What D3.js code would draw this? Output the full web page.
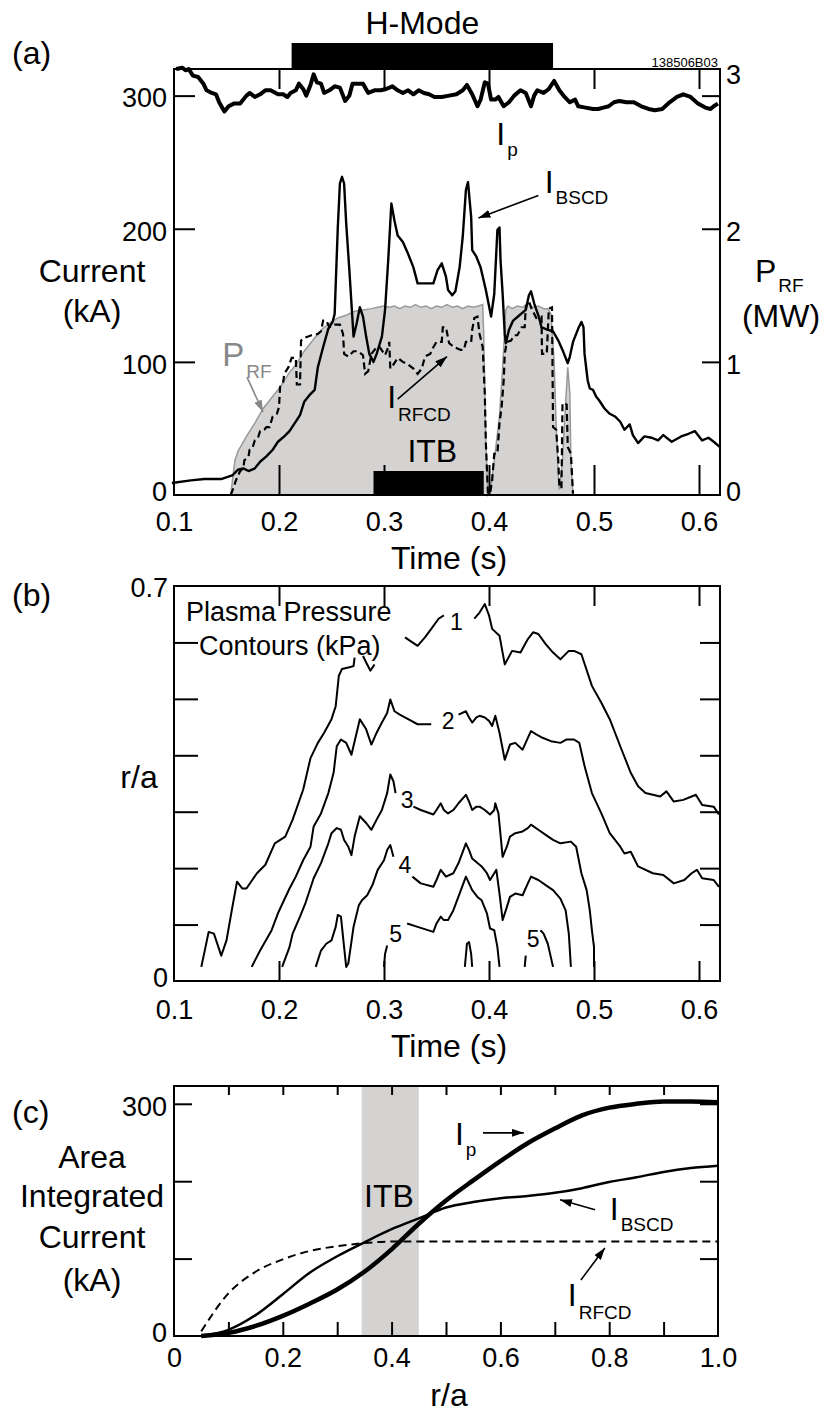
<!DOCTYPE html>
<html>
<head>
<meta charset="utf-8">
<script src="https://cdn.jsdelivr.net/npm/d3@7"></script>
<style>
  body { margin: 0; background: #fff; }
  svg { display: block; font-family: "Liberation Sans", Arial, sans-serif; }
</style>
</head>
<body>
<svg id="chart" width="825" height="1414"></svg>
<script>
// ---------- data ----------

// panel (a): time traces, [time (s), kA] or [time (s), MW]
const ipTrace = [[0.102,320],[0.108,321],[0.111,319],[0.114,320],[0.118,315],[0.123,314],[0.128,309],[0.131,304],[0.136,302],[0.140,301],[0.143,295],[0.148,288],[0.152,292],[0.157,294],[0.163,294],[0.169,300],[0.172,302],[0.177,299],[0.182,301],[0.187,304],[0.192,304],[0.199,301],[0.204,301],[0.208,299],[0.211,302],[0.216,304],[0.219,309],[0.223,305],[0.226,300],[0.230,308],[0.233,316],[0.236,310],[0.240,309],[0.243,302],[0.248,304],[0.253,307],[0.258,306],[0.263,296],[0.267,300],[0.270,309],[0.275,309],[0.280,309],[0.285,302],[0.291,304],[0.297,304],[0.302,305],[0.308,307],[0.313,304],[0.318,302],[0.323,304],[0.328,301],[0.333,304],[0.338,302],[0.343,301],[0.348,299],[0.355,299],[0.362,300],[0.369,301],[0.375,304],[0.379,308],[0.384,301],[0.389,292],[0.392,297],[0.396,310],[0.399,309],[0.402,297],[0.406,297],[0.409,299],[0.414,292],[0.419,295],[0.424,300],[0.430,304],[0.435,302],[0.440,292],[0.443,300],[0.446,304],[0.452,302],[0.457,305],[0.462,311],[0.467,304],[0.472,299],[0.477,295],[0.482,297],[0.485,292],[0.492,291],[0.499,290],[0.504,290],[0.509,291],[0.514,292],[0.519,295],[0.524,296],[0.531,295],[0.538,295],[0.545,292],[0.552,290],[0.558,289],[0.565,290],[0.572,295],[0.579,299],[0.585,301],[0.592,299],[0.599,294],[0.606,291],[0.611,290],[0.614,292],[0.618,294]];

const bscdTrace = [[0.098,9],[0.116,11],[0.129,12],[0.145,12],[0.156,15],[0.161,19],[0.166,20],[0.171,18],[0.177,20],[0.182,25],[0.188,29],[0.194,34],[0.199,40],[0.205,44],[0.210,48],[0.215,54],[0.220,60],[0.224,70],[0.229,75],[0.234,79],[0.237,96],[0.242,111],[0.247,125],[0.251,130],[0.253,136],[0.256,201],[0.258,234],[0.260,239],[0.262,234],[0.264,204],[0.267,169],[0.271,119],[0.274,129],[0.277,141],[0.280,134],[0.283,119],[0.286,106],[0.290,100],[0.293,106],[0.298,119],[0.301,139],[0.304,176],[0.307,219],[0.310,206],[0.313,195],[0.318,190],[0.323,181],[0.328,171],[0.332,159],[0.339,159],[0.347,159],[0.351,169],[0.355,174],[0.359,164],[0.361,154],[0.365,150],[0.368,153],[0.372,171],[0.375,194],[0.378,229],[0.380,235],[0.383,209],[0.384,184],[0.388,179],[0.392,171],[0.397,154],[0.402,134],[0.405,151],[0.408,199],[0.410,201],[0.411,176],[0.413,151],[0.415,121],[0.416,114],[0.419,124],[0.423,131],[0.429,135],[0.435,139],[0.438,150],[0.440,153],[0.443,144],[0.447,135],[0.450,126],[0.456,124],[0.461,123],[0.466,116],[0.470,109],[0.475,99],[0.477,104],[0.480,115],[0.485,125],[0.488,130],[0.490,126],[0.491,106],[0.494,86],[0.496,80],[0.499,79],[0.502,74],[0.505,71],[0.510,65],[0.515,61],[0.520,59],[0.525,55],[0.529,49],[0.534,53],[0.537,45],[0.542,39],[0.548,44],[0.555,43],[0.561,41],[0.566,45],[0.574,40],[0.583,44],[0.590,46],[0.596,48],[0.603,41],[0.609,43],[0.614,40],[0.620,36]];

const rfcdTrace = [[0.154,0],[0.156,4],[0.159,11],[0.163,18],[0.166,20],[0.167,26],[0.171,29],[0.172,34],[0.175,36],[0.177,41],[0.180,43],[0.182,48],[0.186,49],[0.188,51],[0.191,51],[0.194,59],[0.198,61],[0.200,66],[0.201,81],[0.204,85],[0.205,91],[0.209,96],[0.212,103],[0.216,103],[0.217,83],[0.220,83],[0.221,116],[0.224,118],[0.231,120],[0.237,121],[0.240,123],[0.242,131],[0.245,131],[0.248,126],[0.253,128],[0.258,128],[0.261,121],[0.262,106],[0.266,104],[0.271,108],[0.275,108],[0.280,105],[0.282,91],[0.285,93],[0.288,106],[0.293,111],[0.296,111],[0.301,105],[0.304,111],[0.305,115],[0.306,95],[0.309,98],[0.313,103],[0.318,100],[0.323,98],[0.328,95],[0.332,91],[0.336,95],[0.339,104],[0.344,106],[0.347,111],[0.350,115],[0.355,115],[0.356,126],[0.359,126],[0.362,114],[0.367,111],[0.373,109],[0.376,109],[0.378,115],[0.383,115],[0.384,124],[0.386,133],[0.389,134],[0.391,121],[0.394,111],[0.396,76],[0.397,39],[0.399,1],[0.401,1],[0.403,11],[0.405,31],[0.408,31],[0.410,54],[0.412,66],[0.414,86],[0.415,106],[0.417,115],[0.421,116],[0.424,120],[0.427,120],[0.431,126],[0.434,126],[0.435,141],[0.438,146],[0.440,141],[0.445,133],[0.450,134],[0.4505,106],[0.455,106],[0.457,140],[0.460,141],[0.461,51],[0.464,49],[0.466,26],[0.467,6],[0.469,5],[0.470,69],[0.474,68],[0.475,36],[0.478,31],[0.480,1]];

const prfTrace = [[0.154,0],[0.158,0.26],[0.161,0.33],[0.169,0.44],[0.177,0.54],[0.185,0.65],[0.193,0.73],[0.201,0.81],[0.209,0.91],[0.217,0.99],[0.224,1.08],[0.232,1.16],[0.240,1.24],[0.248,1.29],[0.256,1.33],[0.264,1.35],[0.272,1.38],[0.280,1.39],[0.288,1.40],[0.294,1.41],[0.300,1.42],[0.305,1.41],[0.310,1.42],[0.315,1.40],[0.320,1.42],[0.325,1.41],[0.330,1.43],[0.335,1.41],[0.340,1.42],[0.345,1.40],[0.350,1.42],[0.355,1.41],[0.360,1.43],[0.365,1.41],[0.370,1.42],[0.375,1.40],[0.380,1.42],[0.385,1.41],[0.390,1.42],[0.394,1.43],[0.395,1.20],[0.397,0.40],[0.399,0],[0.401,0.02],[0.405,0.26],[0.410,0.59],[0.413,0.96],[0.416,1.39],[0.418,1.42],[0.422,1.40],[0.427,1.42],[0.432,1.41],[0.437,1.44],[0.442,1.41],[0.447,1.42],[0.452,1.40],[0.456,1.40],[0.459,1.36],[0.462,1.01],[0.464,0.51],[0.466,0.14],[0.467,0.04],[0.470,0.26],[0.473,0.69],[0.475,0.96],[0.477,0.76],[0.478,0.26],[0.480,0]];

const hModeSpan = [0.212, 0.461];
const itbSpanTime = [0.290, 0.395];

const timeTicks = [0.1, 0.2, 0.3, 0.4, 0.5, 0.6];
const currentTicks = [0, 100, 200, 300];
const powerTicks = [0, 1, 2, 3];

// panel (b): pressure contours, each level is a list of segments of [time, r/a]
const contour1 = [
  [[0.126,0.025],[0.130,0.060],[0.133,0.087],[0.138,0.084],[0.145,0.045],[0.150,0.072],[0.155,0.125],[0.160,0.176],[0.165,0.164],[0.169,0.164],[0.179,0.191],[0.187,0.206],[0.196,0.244],[0.206,0.256],[0.213,0.286],[0.223,0.339],[0.230,0.395],[0.237,0.422],[0.243,0.440],[0.250,0.464],[0.254,0.487],[0.257,0.541],[0.260,0.553],[0.267,0.556],[0.271,0.558],[0.272,0.573]],
  [[0.280,0.576],[0.284,0.561],[0.287,0.550],[0.291,0.561]],
  [[0.320,0.609],[0.332,0.594],[0.339,0.609],[0.345,0.624],[0.352,0.642],[0.357,0.648]],
  [[0.386,0.642],[0.391,0.653],[0.396,0.668],[0.400,0.648],[0.403,0.624],[0.410,0.612],[0.415,0.561],[0.422,0.585],[0.430,0.582],[0.437,0.606],[0.442,0.618],[0.447,0.615],[0.454,0.597],[0.461,0.582],[0.468,0.570],[0.476,0.585],[0.481,0.585],[0.488,0.579],[0.498,0.523],[0.507,0.493],[0.515,0.464],[0.525,0.416],[0.535,0.369],[0.542,0.345],[0.549,0.333],[0.563,0.327],[0.569,0.336],[0.576,0.318],[0.585,0.321],[0.593,0.327],[0.597,0.330],[0.603,0.312],[0.614,0.309],[0.619,0.295]]
];
const contour2 = [
  [[0.174,0.025],[0.182,0.054],[0.193,0.090],[0.199,0.120],[0.210,0.164],[0.216,0.185],[0.223,0.214],[0.230,0.238],[0.233,0.274],[0.240,0.297],[0.247,0.333],[0.252,0.369],[0.255,0.416],[0.259,0.428],[0.264,0.422],[0.269,0.401],[0.277,0.464],[0.283,0.446],[0.288,0.419],[0.293,0.440],[0.298,0.458],[0.303,0.475],[0.306,0.499],[0.310,0.478],[0.315,0.472],[0.323,0.464],[0.332,0.455],[0.345,0.455]],
  [[0.371,0.472],[0.378,0.478],[0.381,0.467],[0.384,0.458],[0.388,0.467],[0.391,0.470],[0.396,0.467],[0.400,0.461],[0.403,0.452],[0.406,0.470],[0.410,0.440],[0.415,0.392],[0.420,0.419],[0.425,0.422],[0.432,0.410],[0.437,0.431],[0.440,0.443],[0.445,0.437],[0.451,0.431],[0.459,0.425],[0.468,0.422],[0.474,0.428],[0.481,0.428],[0.486,0.422],[0.491,0.381],[0.498,0.333],[0.507,0.297],[0.515,0.262],[0.525,0.238],[0.529,0.226],[0.535,0.229],[0.542,0.203],[0.556,0.191],[0.566,0.188],[0.576,0.173],[0.586,0.179],[0.593,0.191],[0.598,0.197],[0.603,0.182],[0.614,0.179],[0.619,0.167]]
];
const contour3 = [
  [[0.203,0.025],[0.210,0.060],[0.213,0.084],[0.220,0.114],[0.225,0.137],[0.233,0.182],[0.240,0.209],[0.247,0.244],[0.250,0.262],[0.255,0.271],[0.259,0.268],[0.262,0.250],[0.266,0.238],[0.269,0.223],[0.272,0.256],[0.277,0.292],[0.283,0.280],[0.288,0.268],[0.293,0.286],[0.298,0.303],[0.303,0.333],[0.306,0.366],[0.309,0.354],[0.311,0.333]],
  [[0.328,0.309],[0.335,0.303],[0.347,0.295],[0.350,0.303],[0.354,0.315],[0.357,0.303],[0.361,0.297],[0.366,0.303],[0.371,0.315],[0.378,0.330],[0.381,0.318],[0.384,0.303],[0.388,0.309],[0.391,0.309],[0.396,0.303],[0.401,0.295],[0.405,0.303],[0.406,0.315],[0.409,0.297],[0.413,0.220],[0.417,0.238],[0.420,0.256],[0.425,0.262],[0.432,0.265],[0.437,0.271],[0.440,0.277],[0.447,0.268],[0.454,0.259],[0.461,0.250],[0.468,0.244],[0.478,0.247],[0.483,0.238],[0.488,0.191],[0.493,0.161],[0.496,0.125],[0.498,0.090],[0.500,0.060],[0.500,0.025]]
];
const contour4 = [
  [[0.235,0.025],[0.240,0.054],[0.245,0.066],[0.250,0.072],[0.254,0.096],[0.256,0.117],[0.259,0.114],[0.260,0.096],[0.262,0.060],[0.264,0.025],[0.266,0.031],[0.271,0.096],[0.276,0.134],[0.279,0.143],[0.284,0.152],[0.289,0.170],[0.294,0.197],[0.300,0.214],[0.303,0.232],[0.306,0.241],[0.309,0.220]],
  [[0.327,0.185],[0.335,0.173],[0.347,0.167],[0.350,0.179],[0.354,0.197],[0.359,0.185],[0.366,0.191],[0.371,0.209],[0.378,0.244],[0.381,0.232],[0.384,0.217],[0.389,0.209],[0.393,0.203],[0.398,0.191],[0.401,0.179],[0.405,0.191],[0.407,0.197],[0.410,0.155],[0.413,0.108],[0.417,0.131],[0.420,0.149],[0.425,0.155],[0.432,0.152],[0.437,0.173],[0.440,0.185],[0.447,0.179],[0.454,0.170],[0.461,0.161],[0.468,0.146],[0.473,0.125],[0.476,0.084],[0.478,0.025]]
];
const contour5 = [
  [[0.300,0.025],[0.301,0.048],[0.303,0.063]],
  [[0.322,0.102],[0.332,0.096],[0.347,0.087],[0.350,0.102],[0.354,0.114],[0.357,0.108],[0.361,0.108],[0.366,0.125],[0.372,0.155],[0.378,0.185],[0.381,0.173],[0.384,0.161],[0.389,0.149],[0.393,0.143],[0.398,0.120],[0.401,0.093],[0.405,0.090],[0.408,0.060],[0.410,0.025]],
  [[0.377,0.025],[0.379,0.066],[0.381,0.069],[0.383,0.048],[0.384,0.025]],
  [[0.434,0.025],[0.435,0.045]],
  [[0.449,0.090],[0.452,0.084],[0.456,0.066],[0.461,0.025]]
];
const contourLabels = [["1",0.369,0.636],["2",0.361,0.461],["3",0.322,0.321],["4",0.320,0.206],["5",0.311,0.084],["5",0.442,0.075]];

// panel (c): area-integrated current profiles
const rho = [0.05, 0.1, 0.15, 0.2, 0.25, 0.3, 0.35, 0.4, 0.45, 0.5, 0.55, 0.6, 0.65, 0.7, 0.75, 0.8, 0.85, 0.9, 0.95, 1.0];
const ipProfile = [0, 4, 13, 26, 42, 60, 83, 112, 145, 175, 201, 226, 249, 268, 285, 295, 300, 303, 303, 302];
const bscdProfile = [0, 8, 27, 54, 82, 103, 121, 138, 152, 166, 173, 178, 181, 185, 191, 199, 205, 212, 217, 220];
const rfcdProfile = [6, 55, 83, 99, 110, 116, 120, 122, 122, 122, 122, 122, 122, 122, 122, 122, 122, 122, 122, 122];
const itbSpanRho = [0.345, 0.45];
const rhoTicks = [0, 0.2, 0.4, 0.6, 0.8, 1.0];

// ---------- drawing ----------
const svg = d3.select("#chart")
const FONT = 27   // tick labels
const BIG = 32    // axis titles

const defs = svg.append("defs")
function addArrow(id, color) {
  defs.append("marker")
      .attr("id", id)
      .attr("viewBox", "0 0 12 8")
      .attr("refX", 12).attr("refY", 4)
      .attr("markerWidth", 12).attr("markerHeight", 8)
      .attr("markerUnits", "userSpaceOnUse")
      .attr("orient", "auto")
    .append("path")
      .attr("d", "M0,0 L12,4 L0,8 Z")
      .attr("fill", color)
}
addArrow("arrBlack", "#000")
addArrow("arrGrey", "#888")

// inward tick marks (no labels)
function tickMarks(g, axis, scale, values, size, translate) {
  g.append("g")
    .attr("transform", translate)
    .call(axis(scale).tickValues(values).tickSize(-size).tickFormat(""))
    .call(a => a.select(".domain").remove())
    .selectAll("line").attr("stroke", "#000").attr("stroke-width", 2)
}
// labels only
function tickLabels(g, axis, scale, values, pad, translate, fmt) {
  const a = g.append("g")
    .attr("transform", translate)
    .call(axis(scale).tickValues(values).tickSize(0).tickPadding(pad).tickFormat(fmt))
  a.select(".domain").remove()
  a.attr("font-size", null).attr("font-family", null)
  a.selectAll("text").attr("font-size", FONT).attr("fill", "#000")
  return a
}
function subLabel(g, x, y, main, sub, color, dy, mainSize) {
  const t = g.append("text").attr("x", x).attr("y", y).attr("fill", color || "#000")
  t.append("tspan").attr("font-size", mainSize || 32).text(main)
  t.append("tspan").attr("font-size", 19).attr("dx", 2).attr("dy", dy || 11).text(sub)
  return t
}
function arrow(g, p0, p1, id, color, w) {
  g.append("line")
    .attr("x1", p0[0]).attr("y1", p0[1]).attr("x2", p1[0]).attr("y2", p1[1])
    .attr("stroke", color || "#000").attr("stroke-width", w || 1.6)
    .attr("marker-end", "url(#" + id + ")")
}
function bigText(g, x, y, str, size, anchor) {
  return g.append("text").attr("x", x).attr("y", y)
    .attr("font-size", size || BIG).attr("text-anchor", anchor || "middle").text(str)
}

// ===== panel (a) =====
const xA = d3.scaleLinear().domain([0.1, 0.62]).range([174, 720])
const yA = d3.scaleLinear().domain([0, 320]).range([495, 69])
const yMW = d3.scaleLinear().domain([0, 3.2]).range([495, 69])
const pa = svg.append("g")

// RF power (grey fill)
pa.append("path")
  .datum(prfTrace)
  .attr("d", d3.area().x(d => xA(d[0])).y0(yMW(0)).y1(d => yMW(d[1])))
  .attr("fill", "#d5d2d2")
  .attr("stroke", "#999")
  .attr("stroke-width", 1.5)

// ITB bar
pa.append("rect")
  .attr("x", xA(itbSpanTime[0])).attr("y", 471)
  .attr("width", xA(itbSpanTime[1]) - xA(itbSpanTime[0])).attr("height", yA(0) - 471)
  .attr("fill", "#000")

const lineA = d3.line().x(d => xA(d[0])).y(d => yA(d[1]))
pa.append("path").datum(rfcdTrace).attr("d", lineA)
  .attr("fill", "none").attr("stroke", "#000").attr("stroke-width", 2.2).attr("stroke-dasharray", "7,4")
pa.append("path").datum(bscdTrace).attr("d", lineA)
  .attr("fill", "none").attr("stroke", "#000").attr("stroke-width", 2.4).attr("stroke-linejoin", "round")
pa.append("path").datum(ipTrace).attr("d", lineA)
  .attr("fill", "none").attr("stroke", "#000").attr("stroke-width", 4).attr("stroke-linejoin", "round")

// H-mode bar
pa.append("rect")
  .attr("x", xA(hModeSpan[0])).attr("y", 43)
  .attr("width", xA(hModeSpan[1]) - xA(hModeSpan[0])).attr("height", 25)
  .attr("fill", "#000")
bigText(pa, xA((hModeSpan[0] + hModeSpan[1]) / 2), 34, "H-Mode")

// frame & ticks
pa.append("rect").attr("x", xA(0.1)).attr("y", yA(320)).attr("width", xA(0.62) - xA(0.1)).attr("height", yA(0) - yA(320))
  .attr("fill", "none").attr("stroke", "#000").attr("stroke-width", 2)
tickMarks(pa, d3.axisLeft, yA, [100, 200, 300], 21, `translate(${xA(0.1)},0)`)
tickMarks(pa, d3.axisRight, yMW, [1, 2, 3], 18, `translate(${xA(0.62)},0)`)
tickMarks(pa, d3.axisBottom, xA, [0.2, 0.3, 0.4, 0.5, 0.6], 30, `translate(0,${yA(0)})`)
tickMarks(pa, d3.axisTop, xA, [0.2, 0.3, 0.4, 0.5, 0.6], 20, `translate(0,${yA(320)})`)
tickLabels(pa, d3.axisLeft, yA, currentTicks, 7, `translate(${xA(0.1)},0)`, d3.format("d"))
  .selectAll("text").attr("dy", d => d === 0 ? "0.2em" : "0.42em")
const rLab = tickLabels(pa, d3.axisRight, yMW, powerTicks, 6, `translate(${xA(0.62)},0)`, d3.format("d"))
rLab.selectAll("text").attr("dy", d => d === 0 ? "0.2em" : "0.42em")
rLab.selectAll(".tick").filter(d => d === 3).select("text").attr("dy", "-0.45em")
tickLabels(pa, d3.axisBottom, xA, timeTicks, 17, `translate(0,${yA(0)})`, d3.format(".1f"))

pa.append("text").attr("x", 718).attr("y", 67).attr("font-size", 13).attr("text-anchor", "end").text("138506B03")
bigText(pa, 12, 64, "(a)", BIG, "start")
bigText(pa, 92, 282, "Current")
bigText(pa, 92, 322, "(kA)")
subLabel(pa, 755, 282, "P", "RF", "#000", 10, 32)
bigText(pa, 781, 327, "(MW)")
bigText(pa, 449, 569, "Time (s)")

// annotations
subLabel(pa, xA(0.407), yA(263), "I", "p")
subLabel(pa, xA(0.453), yA(227), "I", "BSCD")
arrow(pa, [xA(0.447), yA(225)], [xA(0.390), yA(208)], "arrBlack")
subLabel(pa, xA(0.146), yA(97), "P", "RF", "#888", 12, 33)
arrow(pa, [xA(0.1695), yA(88.6)], [xA(0.1848), yA(62.3)], "arrGrey", "#888")
subLabel(pa, xA(0.303), yA(65), "I", "RFCD", "#000", 13)
arrow(pa, [xA(0.313), yA(72)], [xA(0.360), yA(104)], "arrBlack")
bigText(pa, xA(0.346), yA(25), "ITB", 32)

// ===== panel (b) =====
const yB = d3.scaleLinear().domain([0, 0.7]).range([981, 586])
const pb = svg.append("g")
const lineB = d3.line().x(d => xA(d[0])).y(d => yB(d[1]))
const contours = [contour1, contour2, contour3, contour4, contour5]
contours.forEach(level => {
  pb.selectAll(null)
    .data(level)
    .enter()
    .append("path")
    .attr("d", lineB)
    .attr("fill", "none").attr("stroke", "#000").attr("stroke-width", 2).attr("stroke-linejoin", "round")
})
pb.selectAll(null)
  .data(contourLabels)
  .enter()
  .append("text")
  .attr("x", d => xA(d[1])).attr("y", d => yB(d[2]))
  .attr("dy", "0.36em").attr("text-anchor", "middle").attr("font-size", 23)
  .text(d => d[0])

pb.append("rect").attr("x", xA(0.1)).attr("y", yB(0.7)).attr("width", xA(0.62) - xA(0.1)).attr("height", yB(0) - yB(0.7))
  .attr("fill", "none").attr("stroke", "#000").attr("stroke-width", 2)
tickMarks(pb, d3.axisLeft, yB, [0.1, 0.2, 0.3, 0.4, 0.5, 0.6], 24, `translate(${xA(0.1)},0)`)
tickMarks(pb, d3.axisRight, yB, [0.1, 0.2, 0.3, 0.4, 0.5, 0.6], 20, `translate(${xA(0.62)},0)`)
tickMarks(pb, d3.axisBottom, xA, [0.2, 0.3, 0.4, 0.5, 0.6], 20, `translate(0,${yB(0)})`)
tickMarks(pb, d3.axisTop, xA, [0.2, 0.3, 0.4, 0.5, 0.6], 20, `translate(0,${yB(0.7)})`)
tickLabels(pb, d3.axisLeft, yB, [0, 0.7], 6, `translate(${xA(0.1)},0)`, d => d === 0 ? "0" : d3.format(".1f")(d))
  .selectAll("text").attr("dy", d => d === 0 ? "0.2em" : "0.4em")
tickLabels(pb, d3.axisBottom, xA, timeTicks, 19, `translate(0,${yB(0)})`, d3.format(".1f"))

bigText(pb, 12, 606, "(b)", BIG, "start")
bigText(pb, 139, 788, "r/a")
bigText(pb, 449, 1057, "Time (s)")
pb.append("text").attr("x", 186).attr("y", 621).attr("font-size", 27).text("Plasma Pressure")
pb.append("text").attr("x", 199).attr("y", 655).attr("font-size", 27).text("Contours (kPa)")

// ===== panel (c) =====
const xC = d3.scaleLinear().domain([0, 1]).range([174, 718])
const yC = d3.scaleLinear().domain([0, 323]).range([1336, 1086])
const pc = svg.append("g")

pc.append("rect")
  .attr("x", xC(itbSpanRho[0])).attr("y", yC(323))
  .attr("width", xC(itbSpanRho[1]) - xC(itbSpanRho[0])).attr("height", yC(0) - yC(323))
  .attr("fill", "#d5d2d2")
bigText(pc, xC(0.395), yC(167), "ITB", 32)

const lineC = series => d3.line().curve(d3.curveMonotoneX)
  .x((d, i) => xC(rho[i])).y(d => yC(d))(series)
pc.append("path").attr("d", lineC(rfcdProfile))
  .attr("fill", "none").attr("stroke", "#000").attr("stroke-width", 2).attr("stroke-dasharray", "8,5")
pc.append("path").attr("d", lineC(bscdProfile))
  .attr("fill", "none").attr("stroke", "#000").attr("stroke-width", 2.5)
pc.append("path").attr("d", lineC(ipProfile))
  .attr("fill", "none").attr("stroke", "#000").attr("stroke-width", 4.5)

pc.append("rect").attr("x", xC(0)).attr("y", yC(323)).attr("width", xC(1) - xC(0)).attr("height", yC(0) - yC(323))
  .attr("fill", "none").attr("stroke", "#000").attr("stroke-width", 2)
const rhoMinor = [0.1, 0.2, 0.3, 0.4, 0.5, 0.6, 0.7, 0.8, 0.9]
tickMarks(pc, d3.axisLeft, yC, [100, 200, 300], 18, `translate(${xC(0)},0)`)
tickMarks(pc, d3.axisRight, yC, [100, 200, 300], 18, `translate(${xC(1)},0)`)
tickMarks(pc, d3.axisBottom, xC, rhoMinor, 14, `translate(0,${yC(0)})`)
tickMarks(pc, d3.axisTop, xC, rhoMinor, 9, `translate(0,${yC(323)})`)
tickLabels(pc, d3.axisLeft, yC, [0, 300], 7, `translate(${xC(0)},0)`, d3.format("d"))
  .selectAll("text").attr("dy", d => d === 0 ? "0.2em" : "0.42em")
tickLabels(pc, d3.axisBottom, xC, rhoTicks, 12, `translate(0,${yC(0)})`, d => d === 0 ? "0" : d3.format(".1f")(d))

bigText(pc, 12, 1123, "(c)", BIG, "start")
bigText(pc, 92, 1168, "Area")
bigText(pc, 92, 1207, "Integrated")
bigText(pc, 92, 1248, "Current")
bigText(pc, 92, 1291, "(kA)")
bigText(pc, 449, 1406, "r/a")

subLabel(pc, xC(0.5165), yC(247), "I", "p")
arrow(pc, [xC(0.568), yC(262.5)], [xC(0.643), yC(262.5)], "arrBlack")
subLabel(pc, xC(0.801), yC(150), "I", "BSCD")
arrow(pc, [xC(0.774), yC(163)], [xC(0.7096), yC(176)], "arrBlack")
subLabel(pc, xC(0.724), yC(39), "I", "RFCD", "#000", 13)
arrow(pc, [xC(0.748), yC(72.4)], [xC(0.792), yC(113.8)], "arrBlack")
</script>
</body>
</html>
